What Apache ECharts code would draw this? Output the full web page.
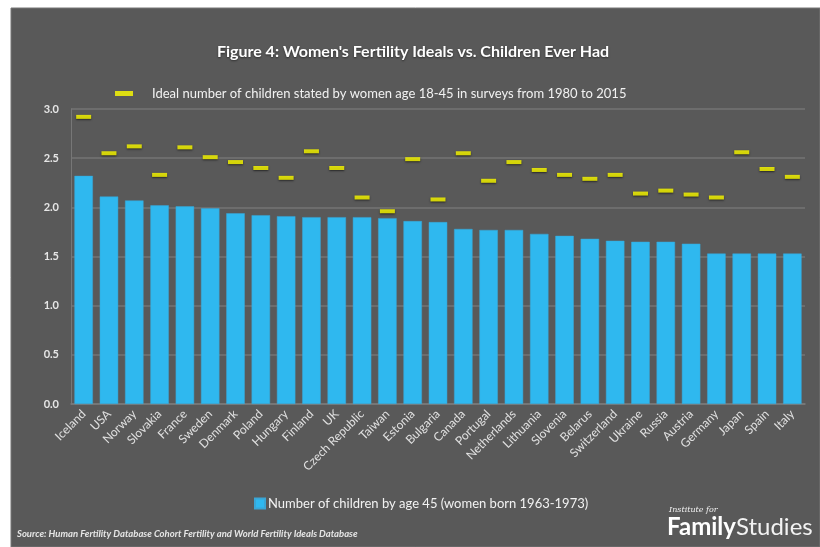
<!DOCTYPE html>
<html>
<head>
<meta charset="utf-8">
<script src="https://cdn.jsdelivr.net/npm/echarts@6/dist/echarts.min.js"></script>
<style>
html,body{margin:0;padding:0;background:#ffffff;}
#chart{width:820px;height:547px;}
</style>
</head>
<body>
<div id="chart"></div>
<script>
const countries = ["Iceland","USA","Norway","Slovakia","France","Sweden","Denmark","Poland","Hungary","Finland","UK","Czech Republic","Taiwan","Estonia","Bulgaria","Canada","Portugal","Netherlands","Lithuania","Slovenia","Belarus","Switzerland","Ukraine","Russia","Austria","Germany","Japan","Spain","Italy"];
const childrenHad = [2.32,2.11,2.07,2.02,2.01,1.99,1.94,1.92,1.91,1.90,1.90,1.90,1.89,1.86,1.85,1.78,1.77,1.77,1.73,1.71,1.68,1.66,1.65,1.65,1.63,1.53,1.53,1.53,1.53];
const idealChildren = [2.92,2.55,2.62,2.33,2.61,2.51,2.46,2.40,2.30,2.57,2.40,2.10,1.96,2.49,2.08,2.55,2.27,2.46,2.38,2.33,2.29,2.33,2.14,2.17,2.13,2.10,2.56,2.39,2.31];
const yTicks = [0,0.5,1.0,1.5,2.0,2.5,3.0];

const chart = echarts.init(document.getElementById('chart'));
const FONT = 'Lato, "Open Sans", sans-serif';
chart.setOption({
  backgroundColor: '#ffffff',
  animation: false,
  graphic: [
    {type:'rect', z:-10, shape:{x:11,y:8,width:809,height:539}, style:{fill:'#595959', stroke:'#777777', lineWidth:1}},
    {type:'text', left:17, top:529, style:{text:'Source: Human Fertility Database Cohort Fertility and World Fertility Ideals Database', fill:'#e6e6e6', font:'italic bold 9.5px '+FONT}},
    {type:'text', left:669, top:506, style:{text:'Institute for', fill:'#f2f2f2', font:'italic 8px "DejaVu Serif", serif'}},
    {type:'text', left:667, top:515, style:{
      text:'{a|Family}{b|Studies}',
      rich:{
        a:{fill:'#ffffff', fontFamily:FONT, fontWeight:'bold', fontSize:24},
        b:{fill:'#f2f2f2', fontFamily:FONT, fontWeight:'normal', fontSize:24}
      }}}
  ],
  title: {
    text: "Figure 4: Women's Fertility Ideals vs. Children Ever Had",
    left: 408, textAlign: 'center', top: 39,
    textStyle: {color:'#ffffff', fontFamily: FONT, fontWeight:'bold', fontSize:16,
      textShadowColor:'rgba(0,0,0,0.5)', textShadowBlur:2, textShadowOffsetY:1}
  },
  legend: [
    {data:[{name:'Ideal number of children stated by women age 18-45 in surveys from 1980 to 2015', icon:'rect'}],
     left: 110, top: 82, itemWidth: 18, itemHeight: 5, itemGap: 10,
     textStyle:{color:'#f2f2f2', fontFamily: FONT, fontSize:13, padding:[0,0,0,14]}},
    {data:[{name:'Number of children by age 45 (women born 1963-1973)', icon:'rect'}],
     left: 249, top: 492, itemWidth: 10, itemHeight: 10, itemGap: 3,
     textStyle:{color:'#f2f2f2', fontFamily: FONT, fontSize:13, padding:[0,0,0,-2]}}
  ],
  grid: {left:71, right:15, top:109, bottom:143, containLabel:false},
  xAxis: {
    type:'category', data: countries,
    axisLine:{show:true, lineStyle:{color:'#7a7a7a', width:1.5}},
    axisTick:{show:false},
    axisLabel:{rotate:45, color:'#e0e0e0', fontFamily: FONT, fontSize:12, margin:8, interval:0}
  },
  yAxis: {
    type:'value', min:0, max:3, interval:0.5,
    axisLine:{show:true, lineStyle:{color:'#777777', width:1}},
    axisTick:{show:false},
    splitLine:{lineStyle:{color:'#747474', width:1.5}},
    axisLabel:{color:'#e6e6e6', fontFamily: FONT, fontWeight:'bold', fontSize:11, margin:12,
      formatter: v => v.toFixed(1)}
  },
  series: [
    {name:'Number of children by age 45 (women born 1963-1973)', type:'bar', data: childrenHad,
     barWidth:'73%', itemStyle:{color:'#2fb8ef', borderColor:'#3aa6d6', borderWidth:0.5}},
    {name:'Ideal number of children stated by women age 18-45 in surveys from 1980 to 2015', type:'scatter', data: idealChildren,
     symbol:'rect', symbolSize:[15,4],
     itemStyle:{color:'#ffff00', shadowColor:'rgba(0,0,0,0.7)', shadowBlur:2, shadowOffsetY:1}}
  ]
});
</script>
</body>
</html>
